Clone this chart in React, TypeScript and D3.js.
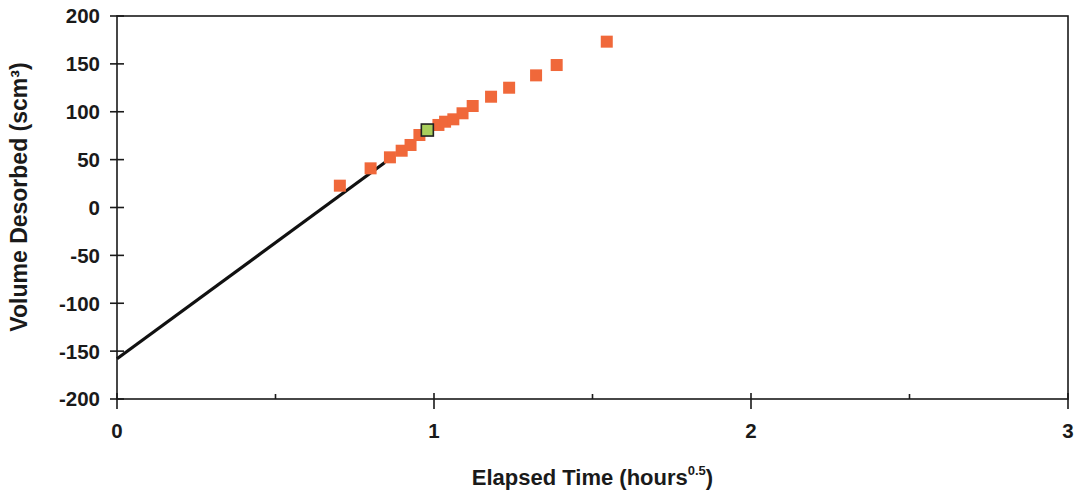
import React from "react";
import * as d3 from "d3";

const xTicks = [0, 1, 2, 3];
const xMinorTicks = [0.5, 1.5, 2.5];
const yTicks = [200, 150, 100, 50, 0, -50, -100, -150, -200];

const desorbX = [0.703, 0.8, 0.861, 0.898, 0.926, 0.954, 1.014, 1.035, 1.061, 1.09, 1.122, 1.18, 1.237, 1.322, 1.387, 1.545];
const desorbY = [22.8, 40.9, 52.4, 59.3, 65.3, 75.7, 86.2, 89.6, 92.1, 98.4, 106, 115.7, 125.1, 138, 148.8, 173.2];

const highlightX = [0.979];
const highlightY = [80.9];

const fitX = [0, 0.845];
const fitY = [-158, 47];

const W = 1079;
const H = 498;
const left = 117;
const right = 1068;
const top = 16;
const bottom = 399;

export default function App() {
  const x = d3.scaleLinear().domain([0, 3]).range([left, right]);
  const y = d3.scaleLinear().domain([-200, 200]).range([bottom, top]);
  const line = d3
    .line<[number, number]>()
    .x((d) => x(d[0]))
    .y((d) => y(d[1]));
  const fitPts: [number, number][] = fitX.map((v, i) => [v, fitY[i]]);
  const font = "'Liberation Sans', Arial, Helvetica, sans-serif";
  const ms = 12;
  return (
    <svg
      width={W}
      height={H}
      style={{ position: "absolute", left: 0, top: 0, background: "#fff" }}
      fontFamily={font}
      fontWeight="bold"
    >
      {/* frame */}
      <rect x={left} y={top} width={right - left} height={bottom - top} fill="none" stroke="#1a1a1a" strokeWidth={1.6} />
      {/* y ticks */}
      {yTicks.map((t) => (
        <g key={"y" + t}>
          <line x1={left - 7} x2={left + 7} y1={y(t)} y2={y(t)} stroke="#1a1a1a" strokeWidth={1.6} />
          <text x={100} y={y(t)} dy="0.36em" textAnchor="end" fontSize={20.5} fill="#1a1a1a">
            {t}
          </text>
        </g>
      ))}
      {/* x ticks */}
      {xTicks.map((t) => (
        <g key={"x" + t}>
          <line x1={x(t)} x2={x(t)} y1={bottom - 6} y2={bottom + 10} stroke="#1a1a1a" strokeWidth={1.6} />
          <text x={x(t)} y={438} textAnchor="middle" fontSize={20.5} fill="#1a1a1a">
            {t}
          </text>
        </g>
      ))}
      {xMinorTicks.map((t) => (
        <line key={"m" + t} x1={x(t)} x2={x(t)} y1={bottom - 5} y2={bottom} stroke="#1a1a1a" strokeWidth={1.6} />
      ))}
      {/* axis titles */}
      <text x={(left + right) / 2} y={485} textAnchor="middle" fontSize={22} fill="#1a1a1a">
        Elapsed Time (hours
        <tspan dy={-10} fontSize={13}>0.5</tspan>
        <tspan dy={10}>)</tspan>
      </text>
      <text
        transform={`translate(27, 197) rotate(-90)`}
        textAnchor="middle"
        fontSize={23}
        fill="#1a1a1a"
      >
        Volume Desorbed (scm³)
      </text>
      {/* fit line */}
      <path d={line(fitPts) || ""} fill="none" stroke="#111" strokeWidth={3.2} />
      {/* data */}
      {desorbX.map((v, i) => (
        <rect
          key={"p" + i}
          x={x(v) - ms / 2}
          y={y(desorbY[i]) - ms / 2}
          width={ms}
          height={ms}
          fill="#F0683A"
        />
      ))}
      {highlightX.map((v, i) => (
        <rect
          key={"h" + i}
          x={x(v) - ms / 2}
          y={y(highlightY[i]) - ms / 2}
          width={ms}
          height={ms}
          fill="#A9CF5C"
          stroke="#222"
          strokeWidth={1.6}
        />
      ))}
    </svg>
  );
}
